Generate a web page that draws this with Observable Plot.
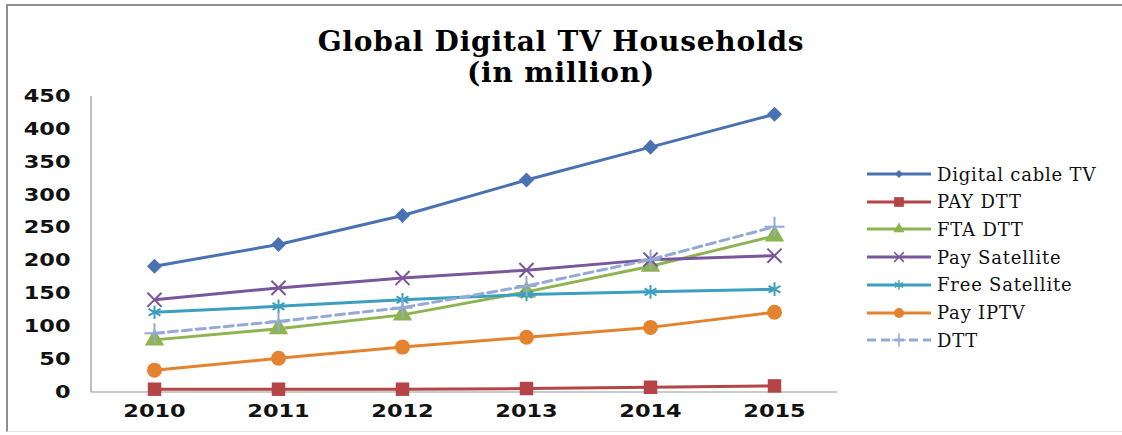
<!DOCTYPE html>
<html><head><meta charset="utf-8">
<script src="https://cdn.jsdelivr.net/npm/d3@7"></script>
<script src="https://cdn.jsdelivr.net/npm/@observablehq/plot@0.6"></script>
<style>
body{margin:0;background:#fff;}
#wrap{position:relative;width:1122px;height:435px;overflow:hidden;background:#fff;}
#border{position:absolute;left:6px;top:4px;width:1130px;height:428px;border-left:2px solid #8f8f8f;border-top:2px solid #8f8f8f;border-bottom:1px solid #e3e3e3;box-sizing:border-box;}
.title{position:absolute;left:0;width:1122px;height:30px;text-align:center;font-family:"DejaVu Serif";font-weight:bold;font-size:28px;letter-spacing:0.8px;line-height:30px;color:#000;white-space:nowrap;}
#chart{position:absolute;left:0;top:0;}
.leg{position:absolute;left:866px;height:22px;display:flex;align-items:center;font-family:"DejaVu Serif";font-size:18px;letter-spacing:0.8px;color:#111;white-space:nowrap;}
.leg svg{margin-right:5px;}
</style></head>
<body>
<div id="wrap">
  <div id="border"></div>
  <div id="chart"></div>
  <div class="title" style="top:27px">Global Digital TV Households</div>
  <div class="title" style="top:58px">(in million)</div>
</div>
<script>
const years = ["2010", "2011", "2012", "2013", "2014", "2015"];
const yTicks = [0, 50, 100, 150, 200, 250, 300, 350, 400, 450];
const seriesNames = ["Digital cable TV", "PAY DTT", "FTA DTT", "Pay Satellite", "Free Satellite", "Pay IPTV", "DTT"];
const digitalCableTV = [192, 225, 269, 323, 373, 423];
const payDTT = [5, 5, 5, 6, 8, 10];
const ftaDTT = [80, 97, 118, 153, 192, 238];
const paySatellite = [141, 159, 174, 186, 202, 208];
const freeSatellite = [122, 131, 141, 149, 153, 157];
const payIPTV = [34, 52, 69, 84, 99, 122];
const dtt = [90, 108, 129, 162, 202, 252];

const seriesValues = [digitalCableTV, payDTT, ftaDTT, paySatellite, freeSatellite, payIPTV, dtt];
const colors = ["#4a72b2", "#b54446", "#8eb452", "#7a579c", "#3c9fbd", "#e3832f", "#94aad6"];
const symbols = ["diamond2", "square", "triangle", "times", "asterisk", "circle", "plus"];
const filled = [true, true, true, false, false, true, false];
const sizes = [6.8, 7.6, 7.2, 6.5, 6.5, 7.5, 6.5];
const dashed = [false, false, false, false, false, false, true];

const marks = [];
seriesNames.forEach((name, i) => {
  const rows = years.map((yr, j) => ({series: name, year: yr, value: seriesValues[i][j]}));
  marks.push(Plot.line(rows, {x: "year", y: "value", stroke: colors[i], strokeWidth: 3,
    strokeDasharray: dashed[i] ? "9,5" : null}));
  marks.push(Plot.dot(rows, {x: "year", y: "value", symbol: symbols[i], r: sizes[i],
    fill: filled[i] ? colors[i] : "none", stroke: filled[i] ? "none" : colors[i], strokeWidth: 2}));
});

const chart = Plot.plot({
  width: 1122,
  height: 435,
  marginLeft: 91,
  marginRight: 285,
  marginTop: 96,
  marginBottom: 43,
  style: {fontFamily: "DejaVu Sans", fontSize: "17px", fontWeight: "bold", color: "#111", background: "transparent"},
  x: {type: "point", domain: years, padding: 0.5, tickSize: 0, tickPadding: 12, label: null},
  y: {domain: [0, 450], ticks: yTicks, tickSize: 0, tickPadding: 21, label: null, tickFormat: d => String(d)},
  marks: marks
});
document.getElementById("chart").appendChild(chart);

const svg = d3.select(chart);
// widen the tick labels around their anchor, as in the reference
svg.selectAll("g[aria-label$='tick label'] text").each(function () {
  const x = +this.getAttribute("x") || 0;
  const tr = this.getAttribute("transform") || "";
  this.setAttribute("transform", `${tr} translate(${x},0) scale(1.32,1) translate(${-x},0)`);
});

// axis lines along the frame, from the scales' ranges
const yr = chart.scale("y").range;
const left = 91, right = 1122 - 285;
svg.insert("line", ":first-child").attr("x1", left).attr("x2", left).attr("y1", yr[0]).attr("y2", yr[1])
  .attr("stroke", "#969696").attr("stroke-width", 1.2);
svg.insert("line", ":first-child").attr("x1", left).attr("x2", right).attr("y1", yr[0]).attr("y2", yr[0])
  .attr("stroke", "#969696").attr("stroke-width", 1.2);

// legend
const wrap = document.getElementById("wrap");
const legTops = 174, legStep = 27.7;
const legSizes = [3.6, 5.5, 4.2, 4.5, 4.5, 5, 4.5];
const symMap = {diamond2: d3.symbolDiamond2, square: d3.symbolSquare, triangle: d3.symbolTriangle,
  times: d3.symbolTimes, asterisk: d3.symbolAsterisk, circle: d3.symbolCircle, plus: d3.symbolPlus};
seriesNames.forEach((name, i) => {
  const div = document.createElement("div");
  div.className = "leg";
  div.style.top = (legTops + i * legStep - 11) + "px";
  const s = d3.create("svg").attr("width", 66).attr("height", 22);
  s.append("line").attr("x1", 1).attr("x2", 65).attr("y1", 11).attr("y2", 11)
    .attr("stroke", colors[i]).attr("stroke-width", 3).attr("stroke-dasharray", dashed[i] ? "9,5" : null);
  s.append("path").attr("transform", "translate(33,11)")
    .attr("d", d3.symbol(symMap[symbols[i]], Math.PI * legSizes[i] * legSizes[i])())
    .attr("fill", filled[i] ? colors[i] : "none").attr("stroke", filled[i] ? "none" : colors[i]).attr("stroke-width", 1.5);
  div.appendChild(s.node());
  const t = document.createElement("span");
  t.textContent = name;
  div.appendChild(t);
  wrap.appendChild(div);
});
</script>
</body></html>
